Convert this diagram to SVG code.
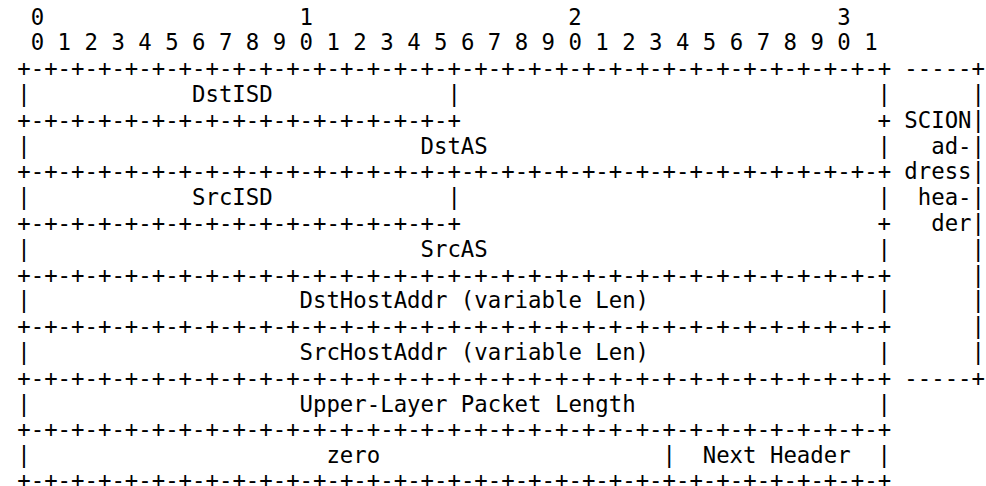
<svg xmlns="http://www.w3.org/2000/svg" width="986" height="486" viewBox="0 0 986 486">
  <style>
    .t { font-family: "DejaVu Sans Mono", "Liberation Mono", monospace; font-size: 22.33px; fill: #000; }
  </style>
  <rect width="986" height="486" fill="#fff"/>

  <!-- bit ruler: column x = 17.3 + 13.44 * col -->
  <g id="ruler" class="t">
    <text x="30.74" y="24.6">0</text>
    <text x="299.54" y="24.6">1</text>
    <text x="568.34" y="24.6">2</text>
    <text x="837.14" y="24.6">3</text>
    <text x="30.74" y="50.4">0 1 2 3 4 5 6 7 8 9 0 1 2 3 4 5 6 7 8 9 0 1 2 3 4 5 6 7 8 9 0 1</text>
  </g>

  <!-- grid of +-+ rules and | separators -->
  <g id="connectors" class="t">
    <!-- horizontal rules -->
    <text x="17.3" y="76.2">+-+-+-+-+-+-+-+-+-+-+-+-+-+-+-+-+-+-+-+-+-+-+-+-+-+-+-+-+-+-+-+-+</text>
    <text x="904.34" y="76.2">-----+</text>
    <text x="17.3" y="127.8">+-+-+-+-+-+-+-+-+-+-+-+-+-+-+-+-+</text>
    <text x="877.46" y="127.8">+</text>
    <text x="17.3" y="179.4">+-+-+-+-+-+-+-+-+-+-+-+-+-+-+-+-+-+-+-+-+-+-+-+-+-+-+-+-+-+-+-+-+</text>
    <text x="17.3" y="231">+-+-+-+-+-+-+-+-+-+-+-+-+-+-+-+-+</text>
    <text x="877.46" y="231">+</text>
    <text x="17.3" y="282.6">+-+-+-+-+-+-+-+-+-+-+-+-+-+-+-+-+-+-+-+-+-+-+-+-+-+-+-+-+-+-+-+-+</text>
    <text x="17.3" y="334.2">+-+-+-+-+-+-+-+-+-+-+-+-+-+-+-+-+-+-+-+-+-+-+-+-+-+-+-+-+-+-+-+-+</text>
    <text x="17.3" y="385.8">+-+-+-+-+-+-+-+-+-+-+-+-+-+-+-+-+-+-+-+-+-+-+-+-+-+-+-+-+-+-+-+-+</text>
    <text x="904.34" y="385.8">-----+</text>
    <text x="17.3" y="437.4">+-+-+-+-+-+-+-+-+-+-+-+-+-+-+-+-+-+-+-+-+-+-+-+-+-+-+-+-+-+-+-+-+</text>
    <text x="17.3" y="487.5">+-+-+-+-+-+-+-+-+-+-+-+-+-+-+-+-+-+-+-+-+-+-+-+-+-+-+-+-+-+-+-+-+</text>

    <!-- left edge -->
    <text x="17.3" y="102">|</text>
    <text x="17.3" y="153.6">|</text>
    <text x="17.3" y="205.2">|</text>
    <text x="17.3" y="256.8">|</text>
    <text x="17.3" y="308.4">|</text>
    <text x="17.3" y="360">|</text>
    <text x="17.3" y="411.6">|</text>
    <text x="17.3" y="463.2">|</text>

    <!-- inner separators -->
    <text x="447.38" y="102">|</text>
    <text x="447.38" y="205.2">|</text>
    <text x="662.42" y="463.2">|</text>

    <!-- right edge of the 32-bit words -->
    <text x="877.46" y="102">|</text>
    <text x="877.46" y="153.6">|</text>
    <text x="877.46" y="205.2">|</text>
    <text x="877.46" y="256.8">|</text>
    <text x="877.46" y="308.4">|</text>
    <text x="877.46" y="360">|</text>
    <text x="877.46" y="411.6">|</text>
    <text x="877.46" y="463.2">|</text>

    <!-- bracket edge -->
    <text x="971.54" y="102">|</text>
    <text x="971.54" y="127.8">|</text>
    <text x="971.54" y="153.6">|</text>
    <text x="971.54" y="179.4">|</text>
    <text x="971.54" y="205.2">|</text>
    <text x="971.54" y="231">|</text>
    <text x="971.54" y="256.8">|</text>
    <text x="971.54" y="282.6">|</text>
    <text x="971.54" y="308.4">|</text>
    <text x="971.54" y="334.2">|</text>
    <text x="971.54" y="360">|</text>
  </g>

  <!-- field labels -->
  <g id="dst-isd" class="t"><text x="192.02" y="102">DstISD</text></g>
  <g id="dst-as" class="t"><text x="420.5" y="153.6">DstAS</text></g>
  <g id="src-isd" class="t"><text x="192.02" y="205.2">SrcISD</text></g>
  <g id="src-as" class="t"><text x="420.5" y="256.8">SrcAS</text></g>
  <g id="dst-host-addr" class="t"><text x="299.54" y="308.4">DstHostAddr (variable Len)</text></g>
  <g id="src-host-addr" class="t"><text x="299.54" y="360">SrcHostAddr (variable Len)</text></g>
  <g id="upper-layer-length" class="t"><text x="299.54" y="411.6">Upper-Layer Packet Length</text></g>
  <g id="zero" class="t"><text x="326.42" y="463.2">zero</text></g>
  <g id="next-header" class="t"><text x="702.74" y="463.2">Next Header</text></g>

  <!-- bracket caption on the right -->
  <g id="scion-address-header" class="t">
    <text x="904.34" y="127.8">SCION</text>
    <text x="931.22" y="153.6">ad-</text>
    <text x="904.34" y="179.4">dress</text>
    <text x="917.78" y="205.2">hea-</text>
    <text x="931.22" y="231">der</text>
  </g>
</svg>
